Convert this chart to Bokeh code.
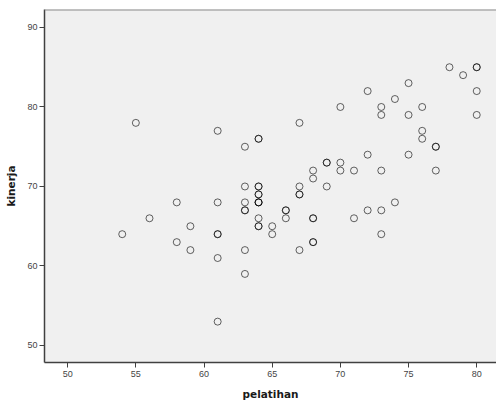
from bokeh.plotting import figure
from bokeh.models import Range1d, Span, FixedTicker
from bokeh.embed import file_html
from bokeh.resources import INLINE

# Data (pelatihan vs kinerja); repeated pairs are overlapping respondents
pelatihan = [54, 55, 56, 58, 58, 59, 59,
             61, 61, 61, 61, 61, 61,
             63, 63, 63, 63, 63, 63, 63,
             64, 64, 64, 64, 64, 64, 64, 64, 64, 64, 64, 64,
             65, 65, 66, 66, 66,
             67, 67, 67, 67, 67,
             68, 68, 68, 68, 68, 68,
             69, 69, 69, 70, 70, 70, 71, 71, 72, 72, 72,
             73, 73, 73, 73, 73, 74, 74, 75, 75, 75,
             76, 76, 76, 77, 77, 77, 78, 79, 80, 80, 80, 80]
kinerja = [64, 78, 66, 68, 63, 65, 62,
           77, 68, 64, 64, 61, 53,
           75, 70, 68, 67, 67, 62, 59,
           76, 76, 70, 70, 69, 69, 68, 68, 68, 66, 65, 65,
           65, 64, 67, 67, 66,
           78, 70, 69, 69, 62,
           72, 71, 66, 66, 63, 63,
           73, 73, 70, 80, 73, 72, 72, 66, 82, 74, 67,
           80, 79, 72, 67, 64, 81, 68, 83, 79, 74,
           80, 77, 76, 75, 75, 72, 85, 84, 85, 85, 82, 79]

x_ticks = [50, 55, 60, 65, 70, 75, 80]
y_ticks = [50, 60, 70, 80, 90]
x_label = "pelatihan"
y_label = "kinerja"

X_START, X_END = 48.3, 81.45
Y_START, Y_END = 47.86, 92.26

p = figure(width=496, height=403, output_backend="svg", toolbar_location=None,
           x_range=Range1d(X_START, X_END), y_range=Range1d(Y_START, Y_END),
           min_border_left=44, min_border_right=0, min_border_top=9, min_border_bottom=41)
p.background_fill_color = "#F0F0F0"
p.border_fill_color = "white"
p.outline_line_color = None
p.grid.visible = False

top_line = Span(location=Y_END, dimension="width", line_color="#8a8a8a", line_width=2)
p.add_layout(top_line)

p.xaxis.ticker = FixedTicker(ticks=x_ticks)
p.yaxis.ticker = FixedTicker(ticks=y_ticks)

for ax in (p.xaxis, p.yaxis):
    ax.axis_line_color = "#404040"
    ax.axis_line_width = 1.5
    ax.major_tick_line_color = "#404040"
    ax.major_tick_line_width = 1
    ax.major_tick_out = 5
    ax.major_tick_in = 0
    ax.minor_tick_line_color = None
    ax.major_label_text_font = "Liberation Sans"
    ax.major_label_text_font_size = "9px"
    ax.major_label_text_color = "#444444"
    ax.axis_label_text_font = "DejaVu Sans"
    ax.axis_label_text_font_style = "bold"
    ax.axis_label_text_font_size = "10.5px"
    ax.axis_label_text_color = "#1a1a1a"

p.xaxis.axis_label = x_label
p.yaxis.axis_label = y_label
p.xaxis.major_label_standoff = 3
p.yaxis.major_label_standoff = 2
p.xaxis.axis_label_standoff = 8
p.yaxis.axis_label_standoff = 7

p.scatter(pelatihan, kinerja, marker="circle", size=7, fill_color=None,
          line_color="black", line_alpha=0.6, line_width=1)

open("out.html", "w").write(file_html(p, INLINE))
